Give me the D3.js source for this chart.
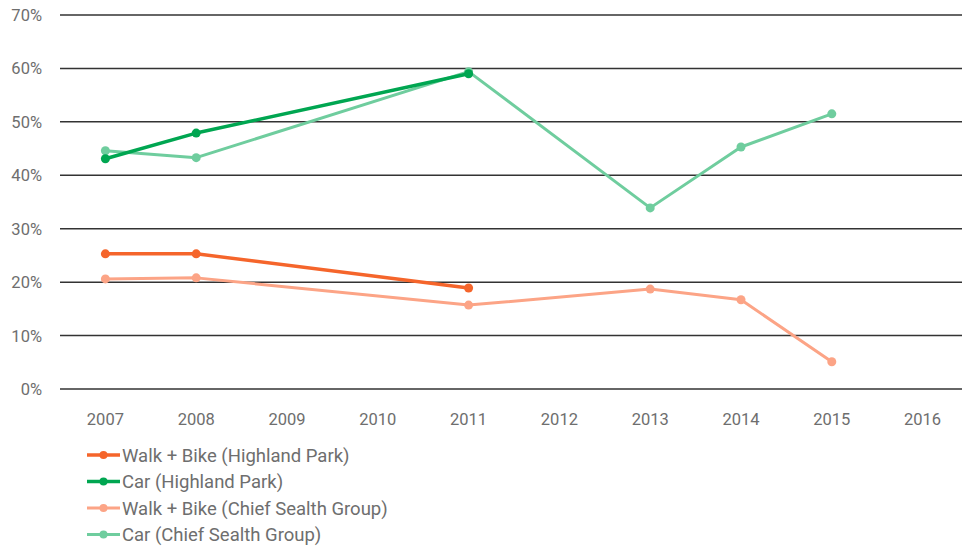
<!DOCTYPE html>
<html>
<head>
<meta charset="utf-8">
<script src="https://cdn.jsdelivr.net/npm/d3@7"></script>
<style>
  body { margin: 0; background: #fff; }
  svg { display: block; font-family: 'Roboto', 'DejaVu Sans Condensed', sans-serif; }
</style>
</head>
<body>
<div class="container"></div>
<script>
const years = ['2007', '2008', '2009', '2010', '2011', '2012', '2013', '2014', '2015', '2016'];
const yTicks = [0, 10, 20, 30, 40, 50, 60, 70];

const walkBikeHP = [['2007', 25.3], ['2008', 25.3], ['2011', 18.9]];
const carHP = [['2007', 43.1], ['2008', 47.9], ['2011', 59.0]];
const walkBikeCS = [['2007', 20.6], ['2008', 20.8], ['2011', 15.7], ['2013', 18.7], ['2014', 16.7], ['2015', 5.1]];
const carCS = [['2007', 44.6], ['2008', 43.3], ['2011', 59.4], ['2013', 33.9], ['2014', 45.3], ['2015', 51.5]];

const seriesNames = ['Walk + Bike (Highland Park)', 'Car (Highland Park)', 'Walk + Bike (Chief Sealth Group)', 'Car (Chief Sealth Group)'];
const seriesColors = ['#f5652b', '#00a651', '#fca486', '#6fcd9e'];
const seriesWidths = [3.5, 3.5, 3, 3];

const w = 962;
const h = 548;
const margin = { top: 15, right: -6, bottom: 159, left: 60 };

const svg = d3.select('.container')
    .append('svg')
    .attr('width', w)
    .attr('height', h);

const x = d3.scaleBand()
    .domain(years)
    .range([margin.left, w - margin.right]);

const y = d3.scaleLinear()
    .domain([0, 70])
    .range([h - margin.bottom, margin.top]);

// gridlines
svg.append('g')
    .selectAll('line')
    .data(yTicks)
    .join('line')
    .attr('x1', margin.left)
    .attr('x2', w)
    .attr('y1', d => y(d))
    .attr('y2', d => y(d))
    .attr('stroke', '#333')
    .attr('stroke-width', 1.5);

// y labels
svg.append('g')
    .selectAll('text')
    .data(yTicks)
    .join('text')
    .attr('x', 42)
    .attr('y', d => y(d) + 6)
    .attr('text-anchor', 'end')
    .attr('fill', '#6e6e6e')
    .style('font-size', '16.5px')
    .text(d => d + '%');

// x labels
svg.append('g')
    .selectAll('text')
    .data(years)
    .join('text')
    .attr('x', d => x(d) + x.bandwidth() / 2)
    .attr('y', 425)
    .attr('text-anchor', 'middle')
    .attr('fill', '#6e6e6e')
    .style('font-size', '16.5px')
    .text(d => d);

const allSeries = [walkBikeHP, carHP, walkBikeCS, carCS];
const line = d3.line()
    .x(d => x(d[0]) + x.bandwidth() / 2)
    .y(d => y(d[1]));

// draw light ones first so the Highland Park lines sit on top
const order = [2, 3, 0, 1];
order.forEach(i => {
    const g = svg.append('g');
    g.append('path')
        .datum(allSeries[i])
        .attr('d', line)
        .attr('fill', 'none')
        .attr('stroke', seriesColors[i])
        .attr('stroke-width', seriesWidths[i])
        .attr('stroke-linejoin', 'round');
    g.selectAll('circle')
        .data(allSeries[i])
        .join('circle')
        .attr('cx', d => x(d[0]) + x.bandwidth() / 2)
        .attr('cy', d => y(d[1]))
        .attr('r', 4.5)
        .attr('fill', seriesColors[i]);
});

// legend
const legend = svg.append('g')
    .selectAll('g')
    .data(seriesNames)
    .join('g')
    .attr('transform', (d, i) => `translate(87, ${455 + i * 26.5})`);

legend.append('line')
    .attr('x1', 0)
    .attr('x2', 33)
    .attr('stroke', (d, i) => seriesColors[i])
    .attr('stroke-width', (d, i) => seriesWidths[i]);

legend.append('circle')
    .attr('cx', 16.5)
    .attr('r', 4)
    .attr('fill', (d, i) => seriesColors[i]);

legend.append('text')
    .attr('x', 35)
    .attr('y', 6.5)
    .attr('fill', '#6e6e6e')
    .style('font-size', '18.5px')
    .text(d => d);
</script>
</body>
</html>
